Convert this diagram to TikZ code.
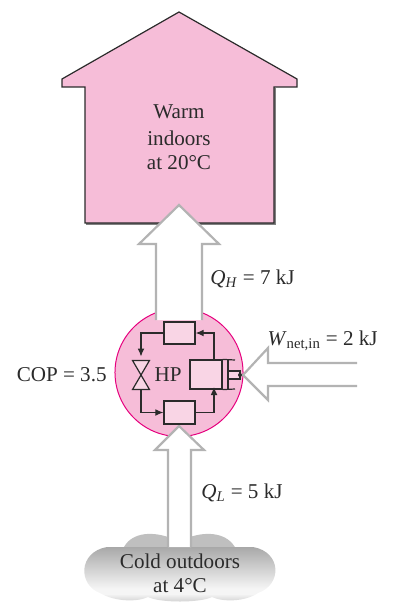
\documentclass[tikz,border=0pt]{standalone}
\usepackage{fontspec}
\setmainfont{Liberation Serif}
\usetikzlibrary{arrows.meta}
\definecolor{housepink}{HTML}{F6BDD8}
\definecolor{boxpink}{HTML}{F9D5E5}
\definecolor{ringpink}{HTML}{E6007E}
\definecolor{flowgray}{HTML}{B3B3B3}
\definecolor{inkgray}{HTML}{2B2B2B}
\pgfdeclareverticalshading{cloudshade}{100bp}{color(0bp)=(gray!40); color(25bp)=(gray!40); color(33bp)=(gray!8); color(38bp)=(gray!8); color(75bp)=(gray!68); color(100bp)=(gray!68)}
\tikzset{
	label text/.style={text=inkgray, font=\fontsize{15}{15}\selectfont, inner sep=0pt},
	part box/.style={draw=inkgray, fill=boxpink, line width=0.3mm, inner sep=0pt},
	pipe/.style={draw=inkgray, line width=0.3mm, -{Latex[length=2mm,width=1.7mm]}},
	flow arrow/.style={draw=flowgray, line width=0.55mm, miter limit=10},
}

\begin{document}
\begin{tikzpicture}[x=0.025cm,y=-0.025cm,line width=0.2mm]
\useasboundingbox (0,0) rectangle (393,602);

% house
\draw[gray,line width=0.3mm] (275,88) -- (275,224) -- (86,224);
\draw[inkgray,fill=housepink,line width=0.3mm] (179,12) -- (297,79) -- (297,87) -- (274,87) -- (274,223) -- (85,223) -- (85,87) -- (62,87) -- (62,79) -- cycle;
\node[label text] (warm) at (179,112) {Warm};
\node[label text] (indoors) at (179,138) {indoors};
\node[label text] (warmtemp) at (179,163) {at 20°C};

% cloud
\fill[gray!50] (123,549) .. controls (130,533) and (150,531) .. (168,537) -- (190,537) .. controls (208,531) and (228,533) .. (236,549) -- cycle;
\shade[shading=cloudshade]
(100,593) .. controls (78,585) and (78,552) .. (107,547) -- (253,547) .. controls (282,552) and (282,585) .. (258,593)
.. controls (245,602) and (222,602) .. (212,597) .. controls (200,603) and (160,603) .. (148,597) .. controls (138,602) and (115,602) .. (100,593) -- cycle;

% heat pump
\draw[ringpink,fill=housepink,line width=0.25mm] (179,372.5) circle (1.6cm);

% heat going up
\fill[white] (179,205) -- (219,244) -- (202,244) -- (202,320) -- (156,320) -- (156,244) -- (139,244) -- cycle;
\draw[flow arrow] (156,320) -- (156,244) -- (139,244) -- (179,205) -- (219,244) -- (202,244) -- (202,320);

\fill[white] (179,426) -- (204,450) -- (191,450) -- (191,547) -- (168,547) -- (168,450) -- (155,450) -- cycle;
\draw[flow arrow] (168,547) -- (168,450) -- (155,450) -- (179,426) -- (204,450) -- (191,450) -- (191,547);

% work coming in
\fill[white] (243,375) -- (268,348) -- (268,363) -- (357,363) -- (357,386) -- (268,386) -- (268,400) -- cycle;
\draw[flow arrow] (357,363) -- (268,363) -- (268,348) -- (243,375) -- (268,400) -- (268,386) -- (357,386);

% cycle parts
\node[part box, minimum width=0.775cm, minimum height=0.55cm] (cond) at (179.5,333) {};
\node[part box, minimum width=0.775cm, minimum height=0.575cm] (evap) at (179.5,412.5) {};
\node[part box, minimum width=0.8cm, minimum height=0.725cm] (comp) at (206,374.5) {};
\node[minimum width=0.4cm, minimum height=0.7cm, inner sep=0pt] (valve) at (141,375) {};
\coordinate (compin) at (214,389);
\coordinate (compout) at (214,360);

\draw[inkgray,line width=0.3mm] (comp.north east) -- (235,360);
\draw[inkgray,line width=0.3mm] (comp.south east) -- (235,389);
\draw[inkgray,line width=0.3mm] (228,360) -- (228,389);
\draw[inkgray,fill=boxpink,line width=0.3mm] (228,371) rectangle (240,379);
\fill[inkgray] (240,375) circle (0.05cm);

\draw[inkgray,fill=boxpink,line width=0.3mm] (valve.north west) -- (valve.north east) -- (valve.south west) -- (valve.south east) -- cycle;

\draw[pipe, shorten >=0.1cm] (cond.west) -| (valve.north);
\draw[pipe] (valve.south) |- (evap.west);
\draw[pipe, shorten >=-0.05cm] (evap.east) -| (compin);
\draw[pipe] (compout) |- (cond.east);

\node[label text] (hp) at (168,375) {HP};
\node[label text, anchor=east] (cop) at (107,375) {COP = 3.5};
\node[label text, anchor=west] (qh) at (210,279) {\textit{Q}\textsubscript{\textit{H}} = 7 kJ};
\node[label text, anchor=west] (ql) at (201,493) {\textit{Q}\textsubscript{\textit{L}} = 5 kJ};
\node[label text, anchor=east] (wnet) at (378,341) {\textit{W}\textsubscript{net,in} = 2 kJ};
\node[label text] (cold) at (180,561) {Cold outdoors};
\node[label text] (coldtemp) at (180,586) {at 4°C};

\end{tikzpicture}
\end{document}
